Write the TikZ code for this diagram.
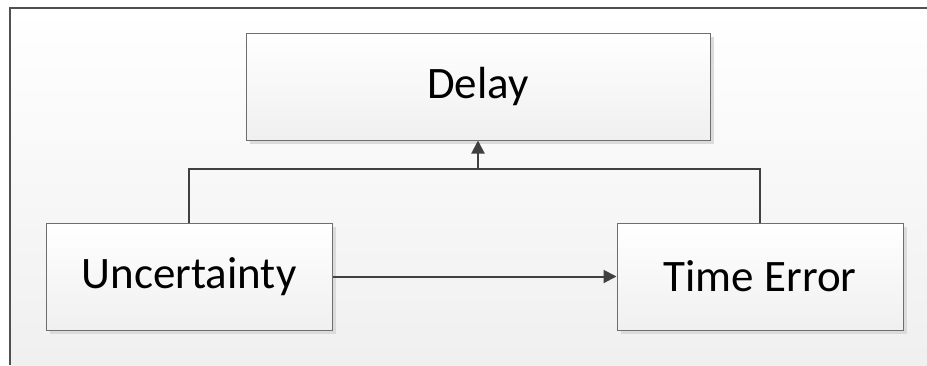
\documentclass[tikz,border=0pt]{standalone}
\usepackage{fontspec}
\setmainfont{Carlito}
\usetikzlibrary{arrows.meta,shadows}
\definecolor{lineC}{HTML}{404040}
\definecolor{frameC}{HTML}{505050}
\definecolor{boxC}{HTML}{6E6E6E}
\tikzset{
  blk/.style={draw=boxC, line width=1pt, top color=white, bottom color=black!6,
    minimum width=286pt, minimum height=107pt, inner sep=0pt, font=\fontsize{45}{54}\selectfont,
    drop shadow={shadow xshift=4pt, shadow yshift=-4pt, fill=black!14, opacity=1}},
  conn/.style={draw=lineC, line width=2pt, -{Triangle[length=13pt,width=13pt]}},
  plain/.style={draw=lineC, line width=2pt}
}
\begin{document}
\begin{tikzpicture}[x=1pt,y=-1pt]
\useasboundingbox (0,0) rectangle (927,365);
\fill[white] (0,0) rectangle (927,365);
\shade[top color=white, bottom color=black!6] (10,8) rectangle (927,365);
\draw[frameC, line width=1.3pt] (10,365) -- (10,8) -- (927,8);
\node[blk, minimum width=464pt] (delay) at (478,86.5) {Delay};
\node[blk] (unc) at (189,276.5) {Uncertainty};
\node[blk] (te) at (760,276.5) {Time Error};
\coordinate (j) at (478,169);
\draw[plain] (unc.north) |- (j) -| (te.north);
\draw[conn] (j) -- (delay.south);
\draw[conn] (unc.east) -- (te.west);
\end{tikzpicture}
\end{document}
